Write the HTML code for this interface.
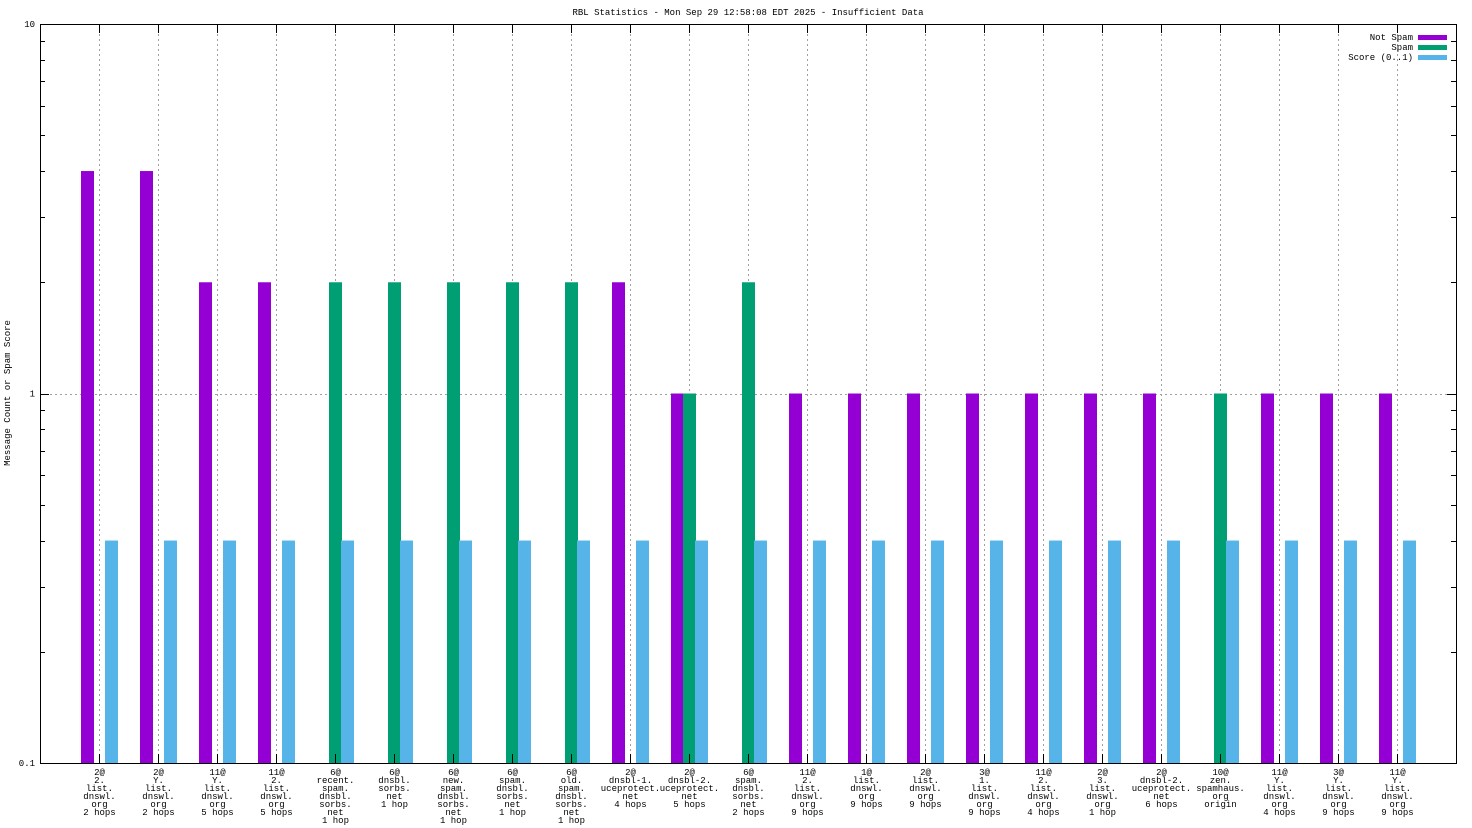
<!DOCTYPE html>
<html><head><meta charset="utf-8"><style>
html,body{margin:0;padding:0;background:#fff;}
svg{display:block;}
text{font-family:"Liberation Mono",monospace;font-size:9px;fill:#000;}
</style></head><body>
<svg id="chart" width="1472" height="828" viewBox="0 0 1472 828" xmlns="http://www.w3.org/2000/svg">
<rect width="1472" height="828" fill="#fff"/>
<text x="748" y="15" text-anchor="middle">RBL Statistics - Mon Sep 29 12:58:08 EDT 2025 - Insufficient Data</text>
<text x="0" y="0" text-anchor="middle" transform="translate(10,393) rotate(-90)">Message Count or Spam Score</text>
<g id="grid"></g>
<g id="bars"></g>
<g id="axes"></g>
<g id="labels"></g>
<g>
<text x="1413" y="40" text-anchor="end">Not Spam</text>
<rect x="1418" y="35" width="29" height="5" fill="#9400d3"/>
<text x="1413" y="50" text-anchor="end">Spam</text>
<rect x="1418" y="45" width="29" height="5" fill="#009e73"/>
<text x="1413" y="60" text-anchor="end">Score (0..1)</text>
<rect x="1418" y="55" width="29" height="5" fill="#56b4e9"/>
</g>
</svg>
<script>
const categories = [
 ["2@","2.","list.","dnswl.","org","2 hops"],
 ["2@","Y.","list.","dnswl.","org","2 hops"],
 ["11@","Y.","list.","dnswl.","org","5 hops"],
 ["11@","2.","list.","dnswl.","org","5 hops"],
 ["6@","recent.","spam.","dnsbl.","sorbs.","net","1 hop"],
 ["6@","dnsbl.","sorbs.","net","1 hop"],
 ["6@","new.","spam.","dnsbl.","sorbs.","net","1 hop"],
 ["6@","spam.","dnsbl.","sorbs.","net","1 hop"],
 ["6@","old.","spam.","dnsbl.","sorbs.","net","1 hop"],
 ["2@","dnsbl-1.","uceprotect.","net","4 hops"],
 ["2@","dnsbl-2.","uceprotect.","net","5 hops"],
 ["6@","spam.","dnsbl.","sorbs.","net","2 hops"],
 ["11@","2.","list.","dnswl.","org","9 hops"],
 ["1@","list.","dnswl.","org","9 hops"],
 ["2@","list.","dnswl.","org","9 hops"],
 ["3@","1.","list.","dnswl.","org","9 hops"],
 ["11@","2.","list.","dnswl.","org","4 hops"],
 ["2@","3.","list.","dnswl.","org","1 hop"],
 ["2@","dnsbl-2.","uceprotect.","net","6 hops"],
 ["10@","zen.","spamhaus.","org","origin"],
 ["11@","Y.","list.","dnswl.","org","4 hops"],
 ["3@","Y.","list.","dnswl.","org","9 hops"],
 ["11@","Y.","list.","dnswl.","org","9 hops"]
];
const notSpam = [4,4,2,2,0,0,0,0,0,2,1,0,1,1,1,1,1,1,1,0,1,1,1];
const spam    = [0,0,0,0,2,2,2,2,2,0,1,2,0,0,0,0,0,0,0,1,0,0,0];
const score   = [0.4,0.4,0.4,0.4,0.4,0.4,0.4,0.4,0.4,0.4,0.4,0.4,0.4,0.4,0.4,0.4,0.4,0.4,0.4,0.4,0.4,0.4,0.4];
const yTickValues = [0.1,1,10];
const yTickLabels = ["0.1","1","10"];

const NS="http://www.w3.org/2000/svg";
const L=40,R=1456,T=24,B=763;
const yMin=0.1,yMax=10;
function y(v){return B-(Math.log10(v)-Math.log10(yMin))/(Math.log10(yMax)-Math.log10(yMin))*(B-T);}
function xc(i){return 99+59*i;}
function mk(tag,attrs,parent){const e=document.createElementNS(NS,tag);for(const k in attrs)e.setAttribute(k,attrs[k]);parent.appendChild(e);return e;}
const grid=document.getElementById('grid'),bars=document.getElementById('bars'),axes=document.getElementById('axes'),labels=document.getElementById('labels');

categories.forEach((c,i)=>{
  const g=mk('line',{x1:xc(i)+0.5,x2:xc(i)+0.5,y1:T,y2:B,stroke:'#a0a0a0','stroke-dasharray':'2,3','stroke-width':1},grid);
  
  
});
const hg=mk('line',{x1:L,x2:R,y1:Math.round(y(1))+0.5,y2:Math.round(y(1))+0.5,stroke:'#a0a0a0','stroke-dasharray':'2,3'},grid);



function bar(v,x0,w,color,name){
  if(!(v>0))return;
  const yy=Math.max(T,y(v));
  const r=mk('rect',{x:x0,y:yy,width:w,height:B-yy,fill:color},bars);
  
  
}
categories.forEach((c,i)=>{
  bar(notSpam[i],xc(i)-18,13,'#9400d3','bar-not-spam');
  bar(spam[i],xc(i)-6,13,'#009e73','bar-spam');
  bar(score[i],xc(i)+6,13,'#56b4e9','bar-score');
});

const frame=mk('rect',{x:L+0.5,y:T+0.5,width:R-L,height:B-T,fill:'none',stroke:'#000','stroke-width':1},axes);


for(let d=-1;d<1;d++){
  for(let m=1;m<10;m++){
    const v=m*Math.pow(10,d);
    const len=m===1?9:5;
    const yy=Math.round(y(v))+0.5;
    const t1=mk('line',{x1:L,x2:L+len,y1:yy,y2:yy,stroke:'#000'},axes);
    
    
    const t2=mk('line',{x1:R,x2:R-len,y1:yy,y2:yy,stroke:'#000'},axes);
    
    
  }
}
yTickValues.forEach((v,k)=>{
  const t=mk('text',{x:35,y:y(v)+3,'text-anchor':'end'},axes);
  t.textContent=yTickLabels[k];
  
  
});
categories.forEach((c,i)=>{
  const a=mk('line',{x1:xc(i)+0.5,x2:xc(i)+0.5,y1:B,y2:B-9,stroke:'#000'},axes);
  
  
  const b=mk('line',{x1:xc(i)+0.5,x2:xc(i)+0.5,y1:T,y2:T+9,stroke:'#000'},axes);
  
  
  const t=mk('text',{x:xc(i),'text-anchor':'middle'},labels);
  
  
  c.forEach((line,j)=>{
    const s=mk('tspan',{x:xc(i)+0.5,y:775+8*j},t);
    s.textContent=line;
  });
});
</script>
</body></html>
